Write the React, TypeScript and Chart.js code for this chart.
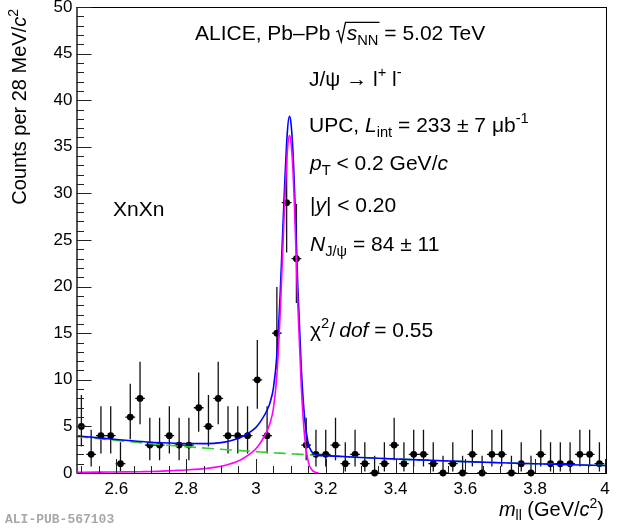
import React, { useEffect, useRef } from 'react';
import { Chart, registerables } from 'chart.js';

Chart.register(...registerables);

// ---------- data ----------
const binCenters = [
  2.5, 2.528, 2.556, 2.584, 2.612, 2.64, 2.668, 2.696, 2.724, 2.752,
  2.78, 2.808, 2.836, 2.864, 2.892, 2.92, 2.948, 2.976, 3.004, 3.032,
  3.06, 3.088, 3.116, 3.144, 3.172, 3.2, 3.228, 3.256, 3.284, 3.312,
  3.34, 3.368, 3.396, 3.424, 3.452, 3.48, 3.508, 3.536, 3.564, 3.592,
  3.62, 3.648, 3.676, 3.704, 3.732, 3.76, 3.788, 3.816, 3.844, 3.872,
  3.9, 3.928, 3.956, 3.984,
];
const counts = [
  5, 2, 4, 4, 1, 6, 8, 3, 3, 4,
  3, 3, 7, 5, 8, 4, 4, 4, 10, 4,
  15, 29, 23, 3, 2, 2, 3, 1, 2, 1,
  0, 1, 3, 1, 2, 2, 1, 0, 1, 0,
  2, 0, 2, 2, 0, 1, 0, 2, 1, 1,
  1, 2, 2, 1,
];
const halfBin = 0.014;
// asymmetric (Poisson) error bar sizes, read per count value
const errCount = [0, 1, 2, 3, 4, 5, 6, 7, 8, 10, 15, 23, 29];
const errLow = [0, 0.83, 1.29, 1.63, 1.91, 2.16, 2.38, 2.58, 2.77, 3.11, 3.83, 4.75, 5.35];
const errHigh = [1.84, 2.3, 2.64, 2.92, 3.16, 3.38, 3.58, 3.77, 3.94, 4.26, 4.96, 5.85, 6.44];

// fit curves
const curveX = [
  2.486, 2.55, 2.6, 2.67, 2.7, 2.765, 2.8, 2.861, 2.9, 2.918,
  2.956, 2.985, 3.0, 3.014, 3.033, 3.04, 3.05, 3.06, 3.07, 3.08,
  3.09, 3.096, 3.1, 3.105, 3.11, 3.12, 3.13, 3.14, 3.15, 3.16,
  3.17, 3.18, 3.2, 3.3, 3.4, 3.5, 3.6, 3.7, 3.8, 3.9, 4.0,
];
const totalFit = [
  4.0, 3.77, 3.6, 3.38, 3.3, 3.2, 3.16, 3.15, 3.26, 3.38,
  3.8, 4.43, 4.89, 5.56, 6.81, 7.5, 9.07, 12.65, 19.63, 28.91,
  36.58, 38.27, 37.66, 35.25, 31.04, 20.02, 11.2, 5.68, 3.16, 2.28,
  1.99, 1.89, 1.86, 1.67, 1.5, 1.36, 1.22, 1.1, 0.99, 0.89, 0.8,
];
const signalFit: (number | null)[] = [
  0.07, 0.09, 0.11, 0.14, 0.16, 0.27, 0.33, 0.5, 0.72, 0.88,
  1.4, 2.1, 2.6, 3.3, 4.6, 5.3, 6.9, 10.5, 17.5, 26.8,
  34.5, 36.2, 35.6, 33.2, 29.0, 18.0, 9.2, 3.7, 1.2, 0.35,
  0.08, 0.0, null, null, null, null, null, null, null, null, null,
];
const backgroundFit = [
  3.93, 3.68, 3.49, 3.24, 3.14, 2.93, 2.83, 2.65, 2.54, 2.5,
  2.4, 2.33, 2.29, 2.26, 2.21, 2.2, 2.17, 2.15, 2.13, 2.11,
  2.08, 2.07, 2.06, 2.05, 2.04, 2.02, 2.0, 1.98, 1.96, 1.93,
  1.91, 1.89, 1.86, 1.67, 1.5, 1.36, 1.22, 1.1, 0.99, 0.89, 0.8,
];

const xTickValues = [2.6, 2.8, 3.0, 3.2, 3.4, 3.6, 3.8, 4.0];
const xTickLabels = ['2.6', '2.8', '3', '3.2', '3.4', '3.6', '3.8', '4'];
const yTickValues = [0, 5, 10, 15, 20, 25, 30, 35, 40, 45, 50];
const yTickLabels = ['0', '5', '10', '15', '20', '25', '30', '35', '40', '45', '50'];
const X_MIN = 2.486;
const X_MAX = 4.0;
const Y_MIN = 0;
const Y_MAX = 50;
const X_MINOR_STEP = 0.05;
const Y_MINOR_STEP = 1;

// ---------- helpers ----------
const FAMILY = '"Liberation Sans", Arial, Helvetica, sans-serif';

type Seg = { t: string; it?: boolean; pos?: 'sub' | 'sup' };

function segFont(s: Seg, size: number) {
  const fs = s.pos ? size * 0.7 : size;
  return `${s.it ? 'italic ' : ''}${fs}px ${FAMILY}`;
}
function measureRich(ctx: CanvasRenderingContext2D, segs: Seg[], size: number) {
  let w = 0;
  for (const s of segs) {
    ctx.font = segFont(s, size);
    w += ctx.measureText(s.t).width;
  }
  return w;
}
function drawRich(ctx: CanvasRenderingContext2D, x: number, y: number, segs: Seg[], size: number) {
  let cx = x;
  for (const s of segs) {
    ctx.font = segFont(s, size);
    const dy = s.pos === 'sub' ? size * 0.22 : s.pos === 'sup' ? -size * 0.42 : 0;
    ctx.fillText(s.t, cx, y + dy);
    cx += ctx.measureText(s.t).width;
  }
  return cx;
}

function lookupErr(c: number) {
  const k = errCount.indexOf(c);
  return { lo: errLow[k], hi: errHigh[k] };
}

function buildVerticalBars() {
  const pts: { x: number; y: number | null }[] = [];
  binCenters.forEach((x, i) => {
    const c = counts[i];
    const e = lookupErr(c);
    pts.push({ x, y: c - e.lo }, { x, y: c + e.hi }, { x, y: null });
  });
  return pts;
}
function buildHorizontalBars() {
  const pts: { x: number; y: number | null }[] = [];
  binCenters.forEach((x, i) => {
    const c = counts[i];
    pts.push({ x: x - halfBin, y: c }, { x: x + halfBin, y: c }, { x, y: null });
  });
  return pts;
}

const decorPlugin = {
  id: 'decor',
  afterDraw(chart: any) {
    const ctx: CanvasRenderingContext2D = chart.ctx;
    const area = chart.chartArea;
    const xs = chart.scales.x;
    const ys = chart.scales.y;
    ctx.save();

    // frame
    ctx.strokeStyle = '#000';
    ctx.lineWidth = 1;
    ctx.strokeRect(Math.round(area.left) + 0.5, Math.round(area.top) + 0.5,
      Math.round(area.right - area.left), Math.round(area.bottom - area.top));
    ctx.strokeStyle = '#555';
    ctx.lineWidth = 2;
    ctx.beginPath();
    ctx.moveTo(Math.round(area.left), area.top);
    ctx.lineTo(Math.round(area.left), area.bottom);
    ctx.stroke();

    // inward tick marks
    ctx.strokeStyle = '#222';
    ctx.lineWidth = 1;
    ctx.beginPath();
    for (let v = 2.5; v <= X_MAX + 1e-9; v += X_MINOR_STEP) {
      const isMajor = xTickValues.some((t) => Math.abs(t - v) < 1e-6);
      const px = Math.round(xs.getPixelForValue(v)) + 0.5;
      ctx.moveTo(px, area.bottom);
      ctx.lineTo(px, area.bottom - (isMajor ? 14 : 7));
    }
    for (let v = Y_MIN; v <= Y_MAX + 1e-9; v += Y_MINOR_STEP) {
      const isMajor = yTickValues.some((t) => Math.abs(t - v) < 1e-6);
      const py = Math.round(ys.getPixelForValue(v)) + 0.5;
      ctx.moveTo(area.left, py);
      ctx.lineTo(area.left + (isMajor ? 15 : 7.5), py);
    }
    ctx.stroke();

    // annotations
    ctx.fillStyle = '#000';
    ctx.textBaseline = 'alphabetic';
    ctx.textAlign = 'left';
    const S = 21;

    // line 1 with radical
    let cx = drawRich(ctx, 195, 40, [{ t: 'ALICE, Pb\u2013Pb ' }], S);
    const by = 40;
    ctx.strokeStyle = '#000';
    ctx.lineWidth = 1.3;
    const radStart = cx;
    const inner: Seg[] = [{ t: 's', it: true }, { t: 'NN', pos: 'sub' }];
    const innerW = measureRich(ctx, inner, S);
    const innerX = radStart + S * 0.5;
    ctx.beginPath();
    ctx.moveTo(radStart, by - S * 0.38);
    ctx.lineTo(radStart + S * 0.1, by - S * 0.44);
    ctx.lineTo(radStart + S * 0.24, by + S * 0.08);
    ctx.lineTo(radStart + S * 0.44, by - S * 0.84);
    ctx.lineTo(innerX + innerW + 1, by - S * 0.84);
    ctx.stroke();
    cx = drawRich(ctx, innerX, by, inner, S);
    drawRich(ctx, cx, by, [{ t: ' = 5.02 TeV' }], S);

    drawRich(ctx, 309, 86, [
      { t: 'J/\u03c8 \u2192 l' }, { t: '+', pos: 'sup' }, { t: ' l' }, { t: '-', pos: 'sup' },
    ], S);
    drawRich(ctx, 309, 132, [
      { t: 'UPC, ' }, { t: 'L', it: true }, { t: 'int', pos: 'sub' },
      { t: ' = 233 \u00b1 7 \u03bcb' }, { t: '-1', pos: 'sup' },
    ], S);
    drawRich(ctx, 310, 170, [
      { t: 'p', it: true }, { t: 'T', pos: 'sub' }, { t: ' < 0.2 GeV/' }, { t: 'c', it: true },
    ], S);
    drawRich(ctx, 310, 212, [
      { t: '|' }, { t: 'y', it: true }, { t: '| < 0.20' },
    ], S);
    drawRich(ctx, 310, 251, [
      { t: 'N', it: true }, { t: 'J/\u03c8', pos: 'sub' }, { t: ' = 84 \u00b1 11' },
    ], S);
    drawRich(ctx, 310, 337, [
      { t: '\u03c7' }, { t: '2', pos: 'sup' }, { t: '/\u2009' }, { t: 'dof', it: true }, { t: ' = 0.55' },
    ], S);
    drawRich(ctx, 113, 216, [{ t: 'XnXn' }], S);

    // axis titles
    const TS = 20;
    const xTitle: Seg[] = [
      { t: 'm', it: true }, { t: 'll', pos: 'sub' }, { t: ' (GeV/' }, { t: 'c', it: true },
      { t: '2', pos: 'sup' }, { t: ')' },
    ];
    const xw = measureRich(ctx, xTitle, TS);
    drawRich(ctx, 604 - xw, 516, xTitle, TS);

    const yTitle: Seg[] = [
      { t: 'Counts per 28 MeV/' }, { t: 'c', it: true }, { t: '2', pos: 'sup' },
    ];
    const yw = measureRich(ctx, yTitle, TS);
    ctx.save();
    ctx.translate(26, 9);
    ctx.rotate(-Math.PI / 2);
    drawRich(ctx, -yw, 0, yTitle, TS);
    ctx.restore();

    // watermark
    ctx.fillStyle = '#a8a8a8';
    ctx.font = `bold 13px "Liberation Mono", "DejaVu Sans Mono", monospace`;
    ctx.fillText('ALI-PUB-567103', 5, 523);

    ctx.restore();
  },
};

export default function App() {
  const ref = useRef<HTMLCanvasElement>(null);
  useEffect(() => {
    document.body.style.margin = '0';
    const canvas = ref.current!;
    const points = binCenters.map((x, i) => ({ x, y: counts[i] }));
    const curve = (ys: (number | null)[]) => curveX.map((x, i) => ({ x, y: ys[i] }));

    const chart = new Chart(canvas, {
      type: 'line',
      data: {
        datasets: [
          {
            label: 'signal',
            data: curve(signalFit),
            borderColor: '#ff00ff',
            borderWidth: 1.6,
            pointRadius: 0,
            cubicInterpolationMode: 'monotone',
            spanGaps: false,
            fill: false,
          } as any,
          {
            label: 'total',
            data: curve(totalFit),
            borderColor: '#0000ff',
            borderWidth: 1.6,
            pointRadius: 0,
            cubicInterpolationMode: 'monotone',
            fill: false,
          } as any,
          {
            label: 'background',
            data: curve(backgroundFit),
            borderColor: '#33cc33',
            borderWidth: 1.6,
            borderDash: [12, 6],
            pointRadius: 0,
            fill: false,
          } as any,
          {
            label: 'points',
            type: 'scatter',
            data: points,
            pointRadius: 3.4,
            pointBackgroundColor: '#000',
            pointBorderWidth: 0,
            showLine: false,
            clip: 10,
          } as any,
          {
            label: 'xerr',
            data: buildHorizontalBars(),
            borderColor: '#111',
            borderWidth: 1.3,
            pointRadius: 0,
            spanGaps: false,
            clip: 10,
          } as any,
          {
            label: 'yerr',
            data: buildVerticalBars(),
            borderColor: '#111',
            borderWidth: 1.3,
            pointRadius: 0,
            spanGaps: false,
            clip: 10,
          } as any,
        ],
      },
      options: {
        responsive: false,
        animation: false,
        events: [],
        layout: { padding: { top: 7, right: 15, left: 0, bottom: 0 } },
        plugins: { legend: { display: false }, tooltip: { enabled: false } },
        scales: {
          x: {
            type: 'linear',
            min: X_MIN,
            max: X_MAX,
            grid: { display: false, drawTicks: false },
            border: { display: false },
            afterBuildTicks: (s: any) => {
              s.ticks = xTickValues.map((v) => ({ value: v }));
            },
            afterFit: (s: any) => {
              s.height = 55;
              s.paddingLeft = 0;
              s.paddingRight = 0;
            },
            ticks: {
              autoSkip: false,
              maxRotation: 0,
              padding: 6,
              color: '#000',
              font: { family: FAMILY, size: 17 },
              callback: (_v: any, i: number) => xTickLabels[i],
            },
          },
          y: {
            type: 'linear',
            min: Y_MIN,
            max: Y_MAX,
            grid: { display: false, drawTicks: false },
            border: { display: false },
            afterBuildTicks: (s: any) => {
              s.ticks = yTickValues.map((v) => ({ value: v }));
            },
            afterFit: (s: any) => {
              s.width = 76.5;
              s.paddingTop = 0;
              s.paddingBottom = 0;
            },
            ticks: {
              autoSkip: false,
              padding: 4,
              color: '#000',
              font: { family: FAMILY, size: 17 },
              callback: (_v: any, i: number) => yTickLabels[i],
            },
          },
        },
      } as any,
      plugins: [decorPlugin],
    });
    return () => chart.destroy();
  }, []);
  return (
    <div style={{ position: 'relative', width: 620, height: 528 }}>
      <canvas ref={ref} width={620} height={528} style={{ display: 'block' }} />
    </div>
  );
}
